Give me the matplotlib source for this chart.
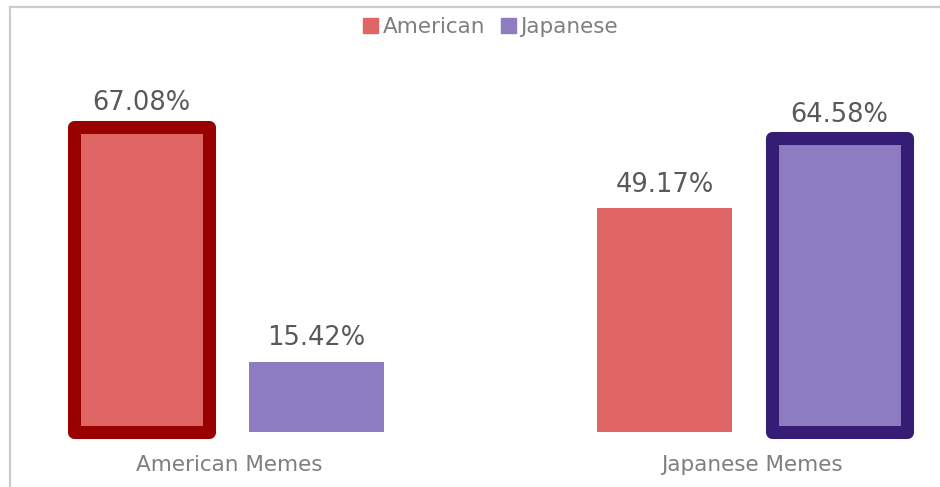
import numpy as np
import matplotlib.pyplot as plt
from matplotlib.lines import Line2D
from matplotlib.patches import Patch

categories = ["American Memes", "Japanese Memes"]
series = ["American", "Japanese"]
american = [67.08, 49.17]
japanese = [15.42, 64.58]

fill_colors = ["#E06666", "#8E7CC3"]
edge_colors = ["#990000", "#351C75"]

fig = plt.figure(figsize=(9.4, 4.87), dpi=100)
ax = fig.add_axes([0, 0, 1, 1])
ax.set_xlim(-0.438, 1.359)
ax.set_ylim(-12.09, 94.9)
ax.axis("off")

x = np.arange(len(categories))
w = 0.258
off = 0.167

b1 = ax.bar(x - off, american, w, color=fill_colors[0])
b2 = ax.bar(x + off, japanese, w, color=fill_colors[1])

# highlight the "home" bar of each group
for bar, ec in [(b1[0], edge_colors[0]), (b2[1], edge_colors[1])]:
    bar.set_edgecolor(ec)
    bar.set_linewidth(9.4)
    bar.set_joinstyle("round")

for bars, vals in [(b1, american), (b2, japanese)]:
    for bar, v in zip(bars, vals):
        ax.annotate(f"{v:.2f}%", (bar.get_x() + bar.get_width() / 2, v),
                    xytext=(0, 16.8), textcoords="offset points",
                    ha="center", va="center", fontsize=18.5, color="#595959")

for xi, c in zip(x, categories):
    ax.annotate(c, (xi, 0), xytext=(0, -23.5), textcoords="offset points",
                ha="center", va="center", fontsize=15.5, color="#7f7f7f")

handles = [Patch(color=fill_colors[0], label=series[0]),
           Patch(color=fill_colors[1], label=series[1])]
fig.legend(handles=handles, loc="center", bbox_to_anchor=(0.522, 0.945),
           ncol=2, frameon=False, fontsize=15.5, labelcolor="#7f7f7f",
           handlelength=0.7, handleheight=0.7, handletextpad=0.2,
           columnspacing=0.75)

# thin gray frame at top and left
fig.add_artist(Line2D([9.5 / 940, 1], [1 - 6.5 / 487] * 2, color="#cccccc", lw=1.6,
                      transform=fig.transFigure))
fig.add_artist(Line2D([9.5 / 940] * 2, [0, 1 - 6.5 / 487], color="#cccccc", lw=1.6,
                      transform=fig.transFigure))

fig.savefig("out.png", dpi=100)
